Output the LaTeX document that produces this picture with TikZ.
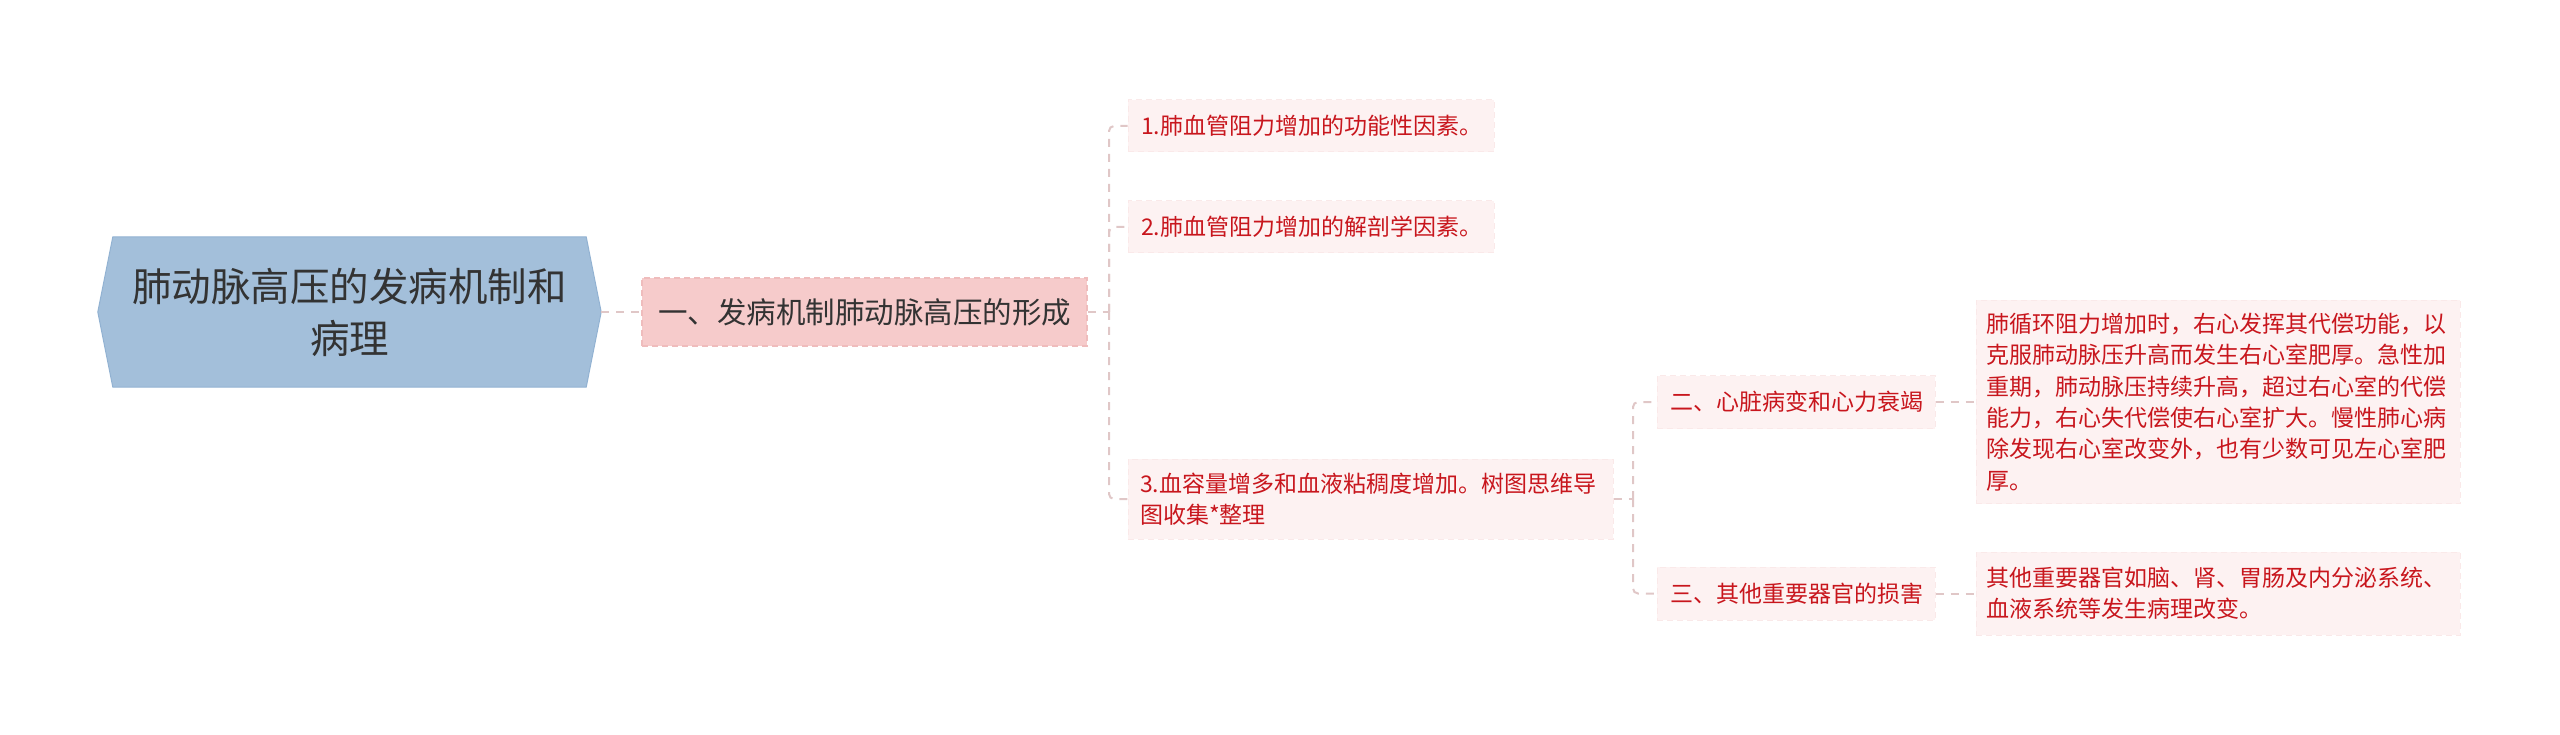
\documentclass[tikz,border=0pt]{standalone}
\usepackage{fontspec}
\setmainfont{Noto Sans CJK SC}
\usetikzlibrary{backgrounds}
\definecolor{connc}{HTML}{E0C7C7}
\definecolor{rootf}{HTML}{A3BFDA}
\definecolor{rootd}{HTML}{92B2D2}
\definecolor{lonef}{HTML}{F6CBCB}
\definecolor{loned}{HTML}{EFBCBC}
\definecolor{leaff}{HTML}{FDF2F2}
\definecolor{leafd}{HTML}{FAE9E9}
\definecolor{leaft}{HTML}{C8161D}
\definecolor{darkt}{HTML}{333333}
\begin{document}
\begin{tikzpicture}[x=1pt,y=-1pt,
  conn/.style={draw=connc, line width=2pt, dash pattern=on 8pt off 7pt},
  rootbox/.style={text=darkt, font=\fontsize{39.5}{52}\selectfont, align=center, text width=460pt, minimum width=503pt, minimum height=150pt, inner sep=0pt},
  lonebox/.style={fill=lonef, draw=loned, line width=1.2pt, dash pattern=on 6pt off 4pt, text=darkt, font=\fontsize{29.5}{38}\selectfont, minimum width=445pt, minimum height=68pt, inner sep=0pt},
  leaf/.style={fill=leaff, draw=leafd, line width=1pt, dash pattern=on 6pt off 4pt, text=leaft, font=\fontsize{23}{31.3}\selectfont, align=left, inner ysep=0pt},
]
\useasboundingbox (0,0) rectangle (2560,735);

% root
\node[rootbox] (root) at (349.5,312) {肺动脉高压的发病机制和\\病理};
\begin{scope}[on background layer]
\fill[rootf, draw=rootd, line width=1pt] (root.west) -- ([xshift=15pt]root.north west) -- ([xshift=-15pt]root.north east) -- (root.east) -- ([xshift=-15pt]root.south east) -- ([xshift=15pt]root.south west) -- cycle;
\end{scope}

% level 1
\node[lonebox] (l1) at (864.5,312) {一、发病机制肺动脉高压的形成};

% level 2
\node[leaf, inner xsep=13pt, text width=340pt, minimum height=52pt] (c1) at (1311,126) {1.肺血管阻力增加的功能性因素。};
\node[leaf, inner xsep=13pt, text width=340pt, minimum height=52pt] (c2) at (1311,227) {2.肺血管阻力增加的解剖学因素。};
\node[leaf, inner xsep=12pt, text width=461pt, minimum height=80pt] (c3) at (1370.5,499) {3.血容量增多和血液粘稠度增加。树图思维导\\图收集*整理};

% level 3
\node[leaf, inner xsep=13pt, text width=252pt, minimum height=53pt] (d1) at (1796,402) {二、心脏病变和心力衰竭};
\node[leaf, inner xsep=13pt, text width=252pt, minimum height=53pt] (d2) at (1796,593.5) {三、其他重要器官的损害};

% level 4
\node[leaf, inner xsep=10pt, text width=464pt, minimum height=203pt] (e1) at (2218,402) {肺循环阻力增加时，右心发挥其代偿功能，以\\克服肺动脉压升高而发生右心室肥厚。急性加\\重期，肺动脉压持续升高，超过右心室的代偿\\能力，右心失代偿使右心室扩大。慢性肺心病\\除发现右心室改变外，也有少数可见左心室肥\\厚。};
\node[leaf, inner xsep=10pt, text width=464pt, minimum height=83pt] (e2) at (2218,593.5) {其他重要器官如脑、肾、胃肠及内分泌系统、\\血液系统等发生病理改变。};

% connectors
\coordinate (t1) at (1109,312);
\coordinate (t2) at (1633,499);
\draw[conn] (root.east) -- (l1.west);
\draw[conn] (l1.east) -- (t1);
\draw[conn, rounded corners=5pt] (t1) |- (c1.west);
\draw[conn, rounded corners=5pt] (t1) |- (c2.west);
\draw[conn, rounded corners=5pt] (t1) |- (c3.west);
\draw[conn] (c3.east) -- (t2);
\draw[conn, rounded corners=5pt] (t2) |- (d1.west);
\draw[conn, rounded corners=5pt] (t2) |- (d2.west);
\draw[conn] (d1.east) -- (e1.west);
\draw[conn] (d2.east) -- (e2.west);
\end{tikzpicture}
\end{document}
